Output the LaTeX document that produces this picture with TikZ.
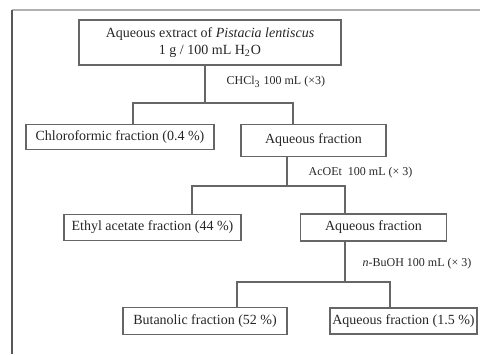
\documentclass[tikz,border=0pt]{standalone}
\usepackage{fontspec}
\setmainfont{Liberation Serif}
\usepackage{tikz}

\begin{document}
\begin{tikzpicture}[x=0.5pt,y=-0.5pt,line width=0.6pt,
    frac box/.style={rectangle,draw=black!60,inner sep=0pt,align=center,
      font=\fontsize{7}{8.4}\selectfont,text=black!85},
    solvent/.style={anchor=west,inner sep=0pt,font=\fontsize{6}{7}\selectfont,text=black!85},
    link/.style={draw=black!60}]

    \useasboundingbox (0,0) rectangle (480,354);

    % Frame
    \draw[black!30] (12,10) -- (480,10);
    \draw[black!65] (12,10) -- (12,354);

    \node[frac box,minimum width=131pt,minimum height=22.5pt] (0) at (210,42.5)
      {Aqueous extract of \textit{Pistacia lentiscus}\\1 g / 100 mL H\textsubscript{2}O};

    % Chloroform step
    \node[frac box,minimum width=94pt,minimum height=12.5pt] (1) at (120,137) {Chloroformic fraction (0.4 \%)};
    \node[frac box,minimum width=72.5pt,minimum height=16pt] (2) at (313.5,140.5) {Aqueous fraction};

    % Ethyl acetate step
    \node[frac box,minimum width=88.5pt,minimum height=13.25pt] (3) at (152.5,227.5) {Ethyl acetate fraction (44 \%)};
    \node[frac box,minimum width=73pt,minimum height=13.5pt] (4) at (373.5,227.5) {Aqueous fraction};

    % Butanol step
    \node[frac box,minimum width=82pt,minimum height=13.3pt] (5) at (205,321) {Butanolic fraction (52 \%)};
    \node[frac box,minimum width=73.5pt,minimum height=13pt] (6) at (403.5,321) {Aqueous fraction (1.5 \%)};

    % Junctions
    \coordinate (a) at (205,103);
    \coordinate (a1) at (133,103);
    \coordinate (a2) at (293,103);
    \coordinate (b) at (287,186);
    \coordinate (b1) at (192,186);
    \coordinate (b2) at (345,186);
    \coordinate (c) at (345,282);
    \coordinate (c1) at (237,282);
    \coordinate (c2) at (390,282);

    \path[link]
    (0.south -| a) -- (a)
    (a1 |- 1.north) -- (a1) -- (a2) -- (a2 |- 2.north)
    (2.south -| b) -- (b)
    (b1 |- 3.north) -- (b1) -- (b2) -- (b2 |- 4.north)
    (4.south -| c) -- (c)
    (c1 |- 5.north) -- (c1) -- (c2) -- (c2 |- 6.north);

    % Solvents
    \node[solvent] (s1) at (226,82) {CHCl\textsubscript{3} 100 mL (×3)};
    \node[solvent] (s2) at (308,173) {AcOEt\ \ 100 mL (× 3)};
    \node[solvent] (s3) at (362,264) {\textit{n}-BuOH 100 mL (× 3)};
  \end{tikzpicture}
\end{document}
